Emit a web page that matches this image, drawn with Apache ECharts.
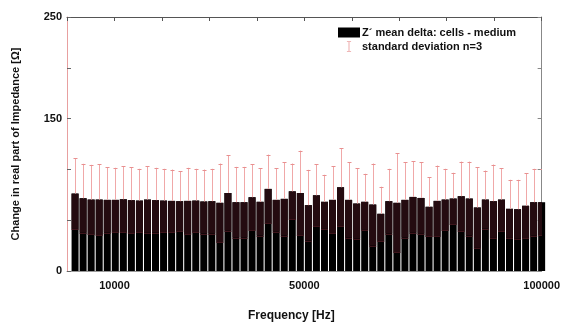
<!DOCTYPE html>
<html>
<head>
<meta charset="utf-8">
<script src="https://cdn.jsdelivr.net/npm/echarts@6/dist/echarts.min.js"></script>
<style>
  html, body { margin: 0; padding: 0; background: #fff; }
  #chart { width: 563px; height: 327px; }
</style>
</head>
<body>
<div id="chart"></div>
<script>
// Frequencies [Hz] of the bars
const frequencies = [
  1700, 3395, 5090, 6785, 8480, 10175, 11870, 13565, 15260, 16955,
  18650, 20345, 22040, 23735, 25430, 27125, 28820, 30515, 32210, 33905,
  35600, 37295, 38990, 40685, 42380, 44075, 45770, 47465, 49160, 50855,
  52550, 54245, 55940, 57635, 59330, 61025, 62720, 64415, 66110, 67805,
  69500, 71195, 72890, 74585, 76280, 77975, 79670, 81365, 83060, 84755,
  86450, 88145, 89840, 91535, 93230, 94925, 96620, 98315, 100000
];
// Mean delta of Z' (cells - medium) [Ohm]
const meanDelta = [
  76.2, 71.6, 70.3, 70.3, 70.0, 70.0, 70.6, 69.7, 69.3, 70.3,
  69.7, 69.3, 69.0, 68.7, 69.0, 69.3, 68.4, 68.7, 67.1, 76.8,
  67.7, 67.7, 72.6, 68.1, 80.8, 70.0, 71.0, 78.4, 76.8, 64.8,
  74.5, 68.1, 70.0, 82.4, 70.0, 66.4, 68.1, 65.4, 56.3, 68.7,
  67.1, 70.0, 72.9, 71.9, 63.2, 69.0, 70.3, 71.3, 73.6, 71.3,
  62.5, 70.3, 68.7, 70.3, 61.2, 60.8, 64.2, 67.7, 67.7
];
// Standard deviation n=3 [Ohm]
const stdDev = [
  34.8, 33.9, 34.2, 34.9, 32.2, 31.6, 32.3, 32.5, 31.3, 32.6,
  31.9, 31.3, 30.9, 29.6, 32.6, 31.3, 31.5, 31.9, 38.7, 37.1,
  34.8, 34.8, 32.3, 33.2, 33.8, 31.3, 36.1, 27.4, 41.7, 34.8,
  30.7, 26.6, 32.9, 38.4, 37.1, 34.5, 27.6, 40.4, 26.7, 31.9,
  48.8, 37.1, 35.2, 35.2, 29.2, 34.8, 30.3, 25.4, 34.1, 36.4,
  39.7, 28.6, 36.1, 31.0, 28.6, 29.0, 32.2, 32.9, 32.6
];
const xTickLabels = [10000, 50000, 100000];
const yTickLabels = [0, 150, 250];

const BAR_W = 7;
const FONT = 'Liberation Sans, Arial, sans-serif';

const barData = frequencies.map((f, i) => [f, meanDelta[i]]);
const errData = frequencies.map((f, i) => [f, meanDelta[i], stdDev[i]]);

const chart = echarts.init(document.getElementById('chart'), null, { renderer: 'canvas' });

const axisCommon = { min: 0, max: 100000, interval: 10000 };

chart.setOption({
  animation: false,
  backgroundColor: '#fff',
  grid: { left: 67, right: 20, top: 17, bottom: 54, containLabel: false },
  legend: {
    left: 338, top: 27, orient: 'vertical', padding: 0,
    itemWidth: 22, itemHeight: 10, itemGap: 3,
    textStyle: { fontFamily: FONT, fontWeight: 'bold', fontSize: 11, color: '#111', padding: [0, 0, 0, -3] },
    data: [
      { name: 'Z´ mean delta: cells - medium', icon: 'rect' },
      { name: 'standard deviation n=3',
        icon: 'path://M0,0h5v0.7h-2.15v10.6h2.15v0.7h-5v-0.7h2.15v-10.6h-2.15z',
        itemStyle: { color: '#e07070' } }
    ]
  },
  xAxis: [
    {
      type: 'value', position: 'bottom', ...axisCommon,
      name: 'Frequency [Hz]', nameLocation: 'middle', nameGap: 39,
      nameTextStyle: { fontFamily: FONT, fontWeight: 'bold', fontSize: 12, color: '#111', padding: [0, 26, 0, 0] },
      axisLine: { onZero: false, lineStyle: { color: '#999', width: 1 } },
      axisTick: { show: false },
      splitLine: { show: false },
      axisLabel: {
        fontFamily: FONT, fontWeight: 'bold', fontSize: 11, color: '#111', margin: 9,
        showMinLabel: true, showMaxLabel: true,
        formatter: v => xTickLabels.includes(v) ? String(v) : ''
      }
    },
    {
      type: 'value', position: 'top', ...axisCommon,
      axisLine: { show: true, onZero: false, lineStyle: { color: '#555', width: 1 } },
      axisTick: { show: true, inside: true, length: 4, lineStyle: { color: '#555' } },
      axisLabel: { show: false },
      splitLine: { show: false }
    }
  ],
  yAxis: [
    {
      type: 'value', position: 'left', min: 0, max: 250, interval: 50,
      name: 'Change in real part of Impedance [Ω]', nameLocation: 'middle', nameGap: 46,
      nameTextStyle: { fontFamily: FONT, fontWeight: 'bold', fontSize: 11, color: '#111' },
      axisLine: { show: true, onZero: false, lineStyle: { color: '#e8a0a0', width: 1 } },
      axisTick: { show: true, inside: true, length: 4, lineStyle: { color: '#666' } },
      splitLine: { show: false },
      axisLabel: {
        fontFamily: FONT, fontWeight: 'bold', fontSize: 11, color: '#111', margin: 5,
        formatter: v => yTickLabels.includes(v) ? String(v) : ''
      }
    },
    {
      type: 'value', position: 'right', min: 0, max: 250, interval: 50,
      axisLine: { show: true, onZero: false, lineStyle: { color: '#888', width: 1 } },
      axisTick: { show: true, inside: true, length: 4, lineStyle: { color: '#888' } },
      axisLabel: { show: false },
      splitLine: { show: false }
    }
  ],
  series: [
    {
      name: 'Z´ mean delta: cells - medium',
      type: 'bar',
      xAxisIndex: 0, yAxisIndex: 0,
      barWidth: BAR_W,
      clip: true,
      itemStyle: { color: '#000' },
      data: barData,
      z: 2
    },
    {
      name: 'standard deviation n=3',
      type: 'custom',
      xAxisIndex: 0, yAxisIndex: 0,
      clip: true,
      itemStyle: { color: '#e07070' },
      data: errData,
      z: 3,
      renderItem: function (params, api) {
        const f = api.value(0), m = api.value(1), s = api.value(2);
        const pm = api.coord([f, m]);
        const ph = api.coord([f, m + s]);
        const pl = api.coord([f, m - s]);
        const x = Math.round(pm[0]) + 0.5;
        const half = BAR_W / 2;
        const cap = 2;
        const children = [
          { type: 'rect', shape: { x: pm[0] - half, y: pm[1], width: BAR_W, height: pl[1] - pm[1] },
            style: { fill: '#240b10' } },
          { type: 'line', shape: { x1: pm[0] - half, y1: Math.round(pl[1]) + 0.5, x2: pm[0] + half, y2: Math.round(pl[1]) + 0.5 },
            style: { stroke: '#3e141b', lineWidth: 1 } },
          { type: 'line', shape: { x1: x, y1: pm[1], x2: x, y2: ph[1] },
            style: { stroke: '#f0a8a8', lineWidth: 1 } },
          { type: 'line', shape: { x1: x - cap, y1: Math.round(ph[1]) + 0.5, x2: x + cap, y2: Math.round(ph[1]) + 0.5 },
            style: { stroke: '#e89090', lineWidth: 1 } }
        ];
        return { type: 'group', children: children };
      }
    }
  ]
});
</script>
</body>
</html>
